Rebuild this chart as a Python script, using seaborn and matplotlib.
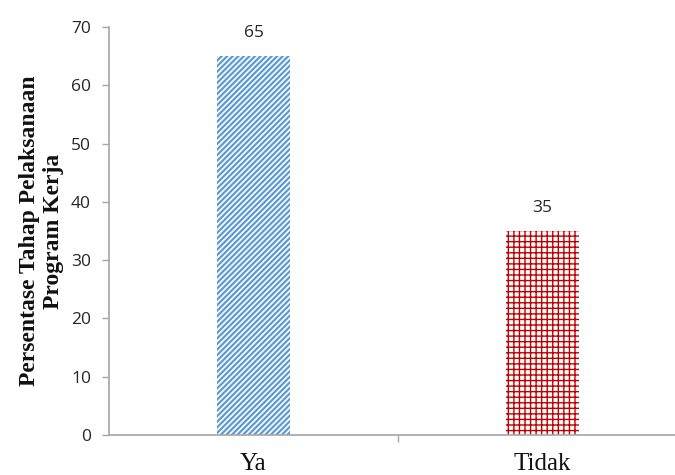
import matplotlib
matplotlib.use("Agg")
import matplotlib.pyplot as plt
import seaborn as sns
import pandas as pd

# Survey result: share of respondents per answer
categories = ["Ya", "Tidak"]
values = [65, 35]
hatches = ["//////", "+++"]
hatch_colors = ["#5B9BD5", "#C00000"]
hatch_widths = [1.6, 1.0]

sns.set_theme(style="white")
plt.rcParams["hatch.linewidth"] = 1.5

df = pd.DataFrame({"Jawaban": categories, "Persentase": values})

fig = plt.figure(figsize=(6.75, 4.75), dpi=100)
ax = fig.add_axes([109 / 675, 40 / 475, (687 - 109) / 675, 408 / 475])

sns.barplot(data=df, x="Jawaban", y="Persentase", hue="Jawaban",
            palette=["white", "white"], width=0.25, legend=False, ax=ax)

for patch, h, c, w in zip(ax.patches, hatches, hatch_colors, hatch_widths):
    patch.set_hatch(h)
    patch.set_edgecolor(c)
    patch.set_linewidth(0)
    if hasattr(patch, "set_hatch_linewidth"):
        patch.set_hatch_linewidth(w)
    else:
        patch._hatch_linewidth = w

for container in ax.containers:
    ax.bar_label(container, fmt="%g", padding=11, fontsize=12.5,
                 family="Open Sans", color="#262626")

ax.set_ylim(0, 70)
ax.set_yticks(range(0, 71, 10))
ax.set_xlim(-0.5, 1.5)

for side in ["top", "right"]:
    ax.spines[side].set_visible(False)
for side in ["left", "bottom"]:
    ax.spines[side].set_color("#A6A6A6")
    ax.spines[side].set_linewidth(1.2)

ax.tick_params(axis="y", which="major", left=True, length=5, width=1,
               color="#A6A6A6", labelsize=12.5, labelcolor="#262626", pad=8)
for lbl in ax.get_yticklabels():
    lbl.set_family("Open Sans")

ax.set_xticks([0.5], minor=True)
ax.tick_params(axis="x", which="major", length=0, pad=13, labelsize=18,
               labelcolor="#111111")
ax.tick_params(axis="x", which="minor", bottom=True, length=5, width=1,
               color="#A6A6A6")
for lbl in ax.get_xticklabels():
    lbl.set_family("Liberation Serif")

ax.set_xlabel("")
ax.set_ylabel("Persentase Tahap Pelaksanaan\nProgram Kerja",
              family="Liberation Serif", fontweight="bold", fontsize=17,
              color="#111111", linespacing=1.2)
ax.yaxis.set_label_coords(-45 / 578, 0.5)

fig.savefig("out.png", dpi=100)
